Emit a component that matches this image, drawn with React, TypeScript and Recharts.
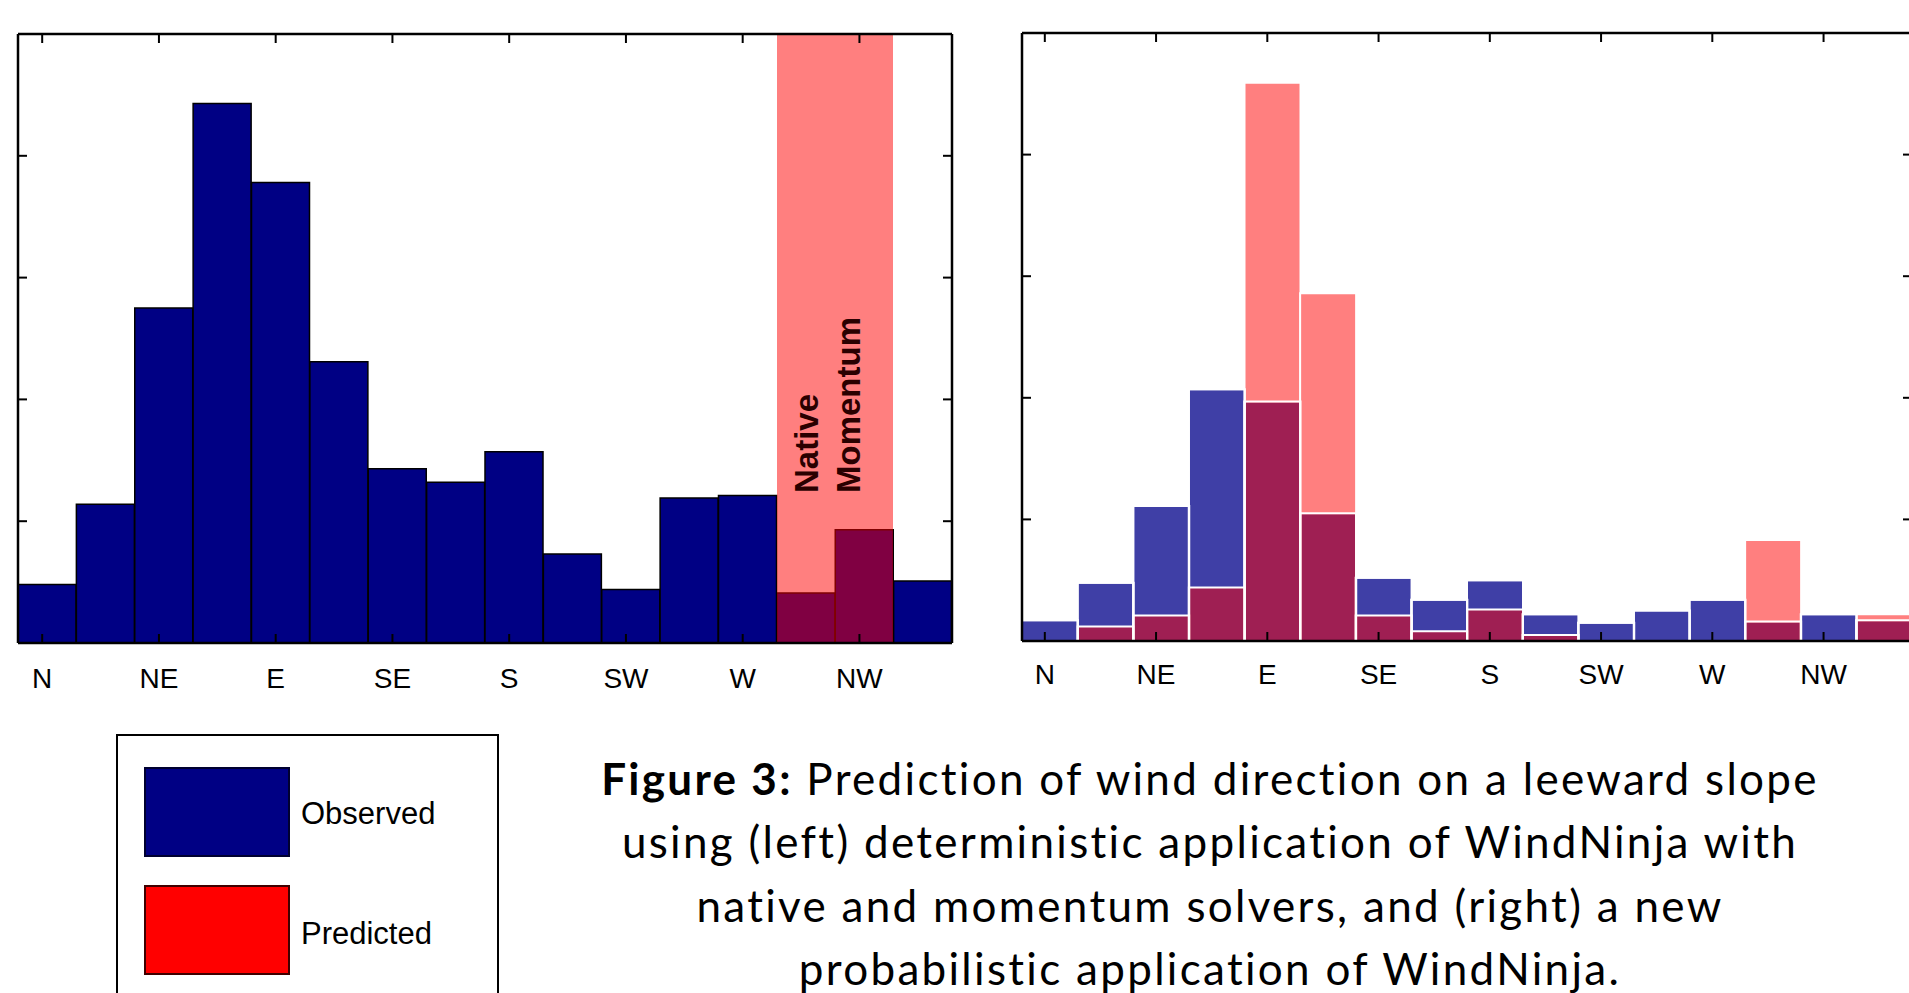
import React from 'react';
import { BarChart, Bar, XAxis, YAxis, Legend, LabelList } from 'recharts';

// 16 direction bins, labels shown on every other one
const directions = ['N', 'NNE', 'NE', 'ENE', 'E', 'ESE', 'SE', 'SSE', 'S', 'SSW', 'SW', 'WSW', 'W', 'WNW', 'NW', 'NNW'];

// left panel: deterministic WindNinja (native / momentum solvers)
const observedLeft = [0.48, 1.14, 2.75, 4.43, 3.78, 2.31, 1.43, 1.32, 1.57, 0.73, 0.44, 1.19, 1.21, 0.41, 0.93, 0.51];
const predictedLeft = [0, 0, 0, 0, 0, 0, 0, 0, 0, 0, 0, 0, 0, 24.6, 24.6, 0];
const solverNames = ['', '', '', '', '', '', '', '', '', '', '', '', '', 'Native', 'Momentum', ''];

// right panel: probabilistic WindNinja
const observedRight = [0.17, 0.48, 1.11, 2.07, 1.97, 1.05, 0.52, 0.34, 0.5, 0.22, 0.15, 0.25, 0.34, 0.16, 0.22, 0.17];
const predictedRight = [0, 0.12, 0.21, 0.44, 4.59, 2.86, 0.21, 0.08, 0.26, 0.05, 0, 0, 0, 0.83, 0, 0.22];

const yTicks = [1, 2, 3, 4];
const yDomain = [0, 5];

const leftData = directions.map((dir, i) => ({
  dir,
  observed: observedLeft[i],
  predicted: predictedLeft[i],
  solver: solverNames[i],
}));
const rightData = directions.map((dir, i) => ({
  dir,
  observed: observedRight[i],
  predicted: predictedRight[i],
}));

const FONT = "'Liberation Sans', Arial, Helvetica, sans-serif";
const TICK_LEN = 9;
const TICK_SHIFT = -5; // matlab ticks sit a little left of the bin centres
const frame = { stroke: '#000', strokeWidth: 2.5 };

const bottomTick = (labelDy: number) => (props: any) => {
  const { y, payload } = props;
  const x = props.x + TICK_SHIFT;
  return (
    <g>
      <line x1={x} y1={y} x2={x} y2={y - TICK_LEN} stroke="#000" strokeWidth={2} />
      <text x={x} y={y + labelDy} textAnchor="middle" fontFamily={FONT} fontSize={28} fill="#000">
        {payload.value}
      </text>
    </g>
  );
};
const topTick = (props: any) => {
  const x = props.x + TICK_SHIFT;
  return <line x1={x} y1={props.y} x2={x} y2={props.y + TICK_LEN} stroke="#000" strokeWidth={2} />;
};
const leftTick = (props: any) => (
  <line x1={props.x} y1={props.y} x2={props.x + TICK_LEN} y2={props.y} stroke="#000" strokeWidth={2} />
);
const rightTick = (props: any) => (
  <line x1={props.x} y1={props.y} x2={props.x - TICK_LEN} y2={props.y} stroke="#000" strokeWidth={2} />
);

// rotated solver names inside the pink band
const SolverLabel = (props: any) => {
  const { x, width, value } = props;
  if (!value) return null;
  const shift = value === 'Native' ? 12 : -4;
  const bx = x + width / 2 + shift;
  const by = 493;
  return (
    <text
      x={bx}
      y={by}
      transform={`rotate(-90, ${bx}, ${by})`}
      fontFamily={FONT}
      fontWeight="bold"
      fontSize={33}
      fill="#2a0000"
    >
      {value}
    </text>
  );
};

// translucent red block, crisp edges so neighbouring blocks don't leave a seam
const bandBar = (props: any) => {
  const { x, y, width, height } = props;
  if (!height || height <= 0) return <g />;
  return (
    <rect
      x={x}
      y={y}
      width={width}
      height={height}
      fill="#FF0000"
      fillOpacity={0.5}
      shapeRendering="crispEdges"
    />
  );
};

// bar with white edges on left, top and right only (bottom axis stays visible)
const edgeBar = (color: string, opacity: number) => (props: any) => {
  const { x, y, width, height } = props;
  if (!height || height <= 0) return <g />;
  const b = y + height;
  return (
    <g>
      {color !== 'none' && (
        <rect x={x} y={y} width={width} height={height} fill={color} fillOpacity={opacity} />
      )}
      <path
        d={`M${x},${b} L${x},${y} L${x + width},${y} L${x + width},${b}`}
        fill="none"
        stroke="#fff"
        strokeWidth={2}
      />
    </g>
  );
};

const LegendBox = (props: any) => {
  const payload = props.payload || [];
  return (
    <div
      style={{
        width: 383,
        height: 300,
        border: '2px solid #000',
        boxSizing: 'border-box',
        background: '#fff',
        position: 'relative',
      }}
    >
      {payload.map((entry: any, i: number) => (
        <div
          key={entry.value}
          style={{ position: 'absolute', left: 26, top: 31 + i * 118, display: 'flex', alignItems: 'center' }}
        >
          <div
            style={{
              width: 146,
              height: 90,
              background: entry.color,
              border: `2px solid ${i === 0 ? '#000030' : '#400000'}`,
              boxSizing: 'border-box',
            }}
          />
          <span
            style={{
              marginLeft: 11,
              marginTop: 4 + i * 4,
              fontFamily: FONT,
              fontSize: 31,
              color: '#000',
            }}
          >
            {entry.value}
          </span>
        </div>
      ))}
    </div>
  );
};

const App: React.FC = () => {
  return (
    <div
      style={{
        position: 'fixed',
        left: 0,
        top: 0,
        width: 1909,
        height: 993,
        overflow: 'hidden',
        background: '#fff',
      }}
    >
      <div style={{ position: 'absolute', left: 0, top: 0 }}>
        <BarChart
          width={962}
          height={703}
          data={leftData}
          margin={{ top: 0, right: 0, bottom: 0, left: 0 }}
          barCategoryGap={0}
          barGap={0}
        >
          <Bar
            xAxisId="b"
            yAxisId="l"
            dataKey="observed"
            name="Observed"
            fill="#000084"
            stroke="#000"
            strokeWidth={1.5}
            isAnimationActive={false}
          />
          <Bar
            xAxisId="o"
            yAxisId="l"
            dataKey="predicted"
            name="Predicted"
            fill="#FF0000"
            shape={bandBar}
            isAnimationActive={false}
          >
            <LabelList dataKey="solver" content={SolverLabel} />
          </Bar>
          <XAxis xAxisId="o" dataKey="dir" hide />
          <XAxis
            xAxisId="b"
            dataKey="dir"
            interval={1}
            height={60}
            tickSize={0}
            tickMargin={0}
            tickLine={false}
            axisLine={frame}
            tick={bottomTick(45)}
          />
          <XAxis
            xAxisId="t"
            orientation="top"
            dataKey="dir"
            interval={1}
            height={34}
            tickSize={0}
            tickMargin={0}
            tickLine={false}
            axisLine={frame}
            tick={topTick}
          />
          <YAxis
            yAxisId="l"
            domain={yDomain}
            ticks={yTicks}
            allowDataOverflow
            width={18}
            tickSize={0}
            tickMargin={0}
            tickLine={false}
            axisLine={frame}
            tick={leftTick}
          />
          <YAxis
            yAxisId="r"
            orientation="right"
            domain={yDomain}
            ticks={yTicks}
            allowDataOverflow
            width={10}
            tickSize={0}
            tickMargin={0}
            tickLine={false}
            axisLine={frame}
            tick={rightTick}
          />
          <Legend
            layout="vertical"
            align="center"
            verticalAlign="middle"
            content={LegendBox}
            wrapperStyle={{ position: 'absolute', left: 116, top: 734, width: 383, height: 300 }}
          />
        </BarChart>
      </div>

      <div style={{ position: 'absolute', left: 1004, top: 0 }}>
        <BarChart
          width={918}
          height={701}
          data={rightData}
          margin={{ top: 0, right: 0, bottom: 0, left: 0 }}
          barCategoryGap={0}
          barGap={0}
        >
          <Bar xAxisId="b" yAxisId="l" dataKey="observed" shape={edgeBar('#3F3FA6', 1)} isAnimationActive={false} />
          <Bar xAxisId="o" yAxisId="l" dataKey="predicted" shape={edgeBar('#FF0000', 0.5)} isAnimationActive={false} />
          <Bar xAxisId="o2" yAxisId="l" dataKey="observed" shape={edgeBar('none', 0)} isAnimationActive={false} />
          <XAxis xAxisId="o" dataKey="dir" hide />
          <XAxis xAxisId="o2" dataKey="dir" hide />
          <XAxis
            xAxisId="b"
            dataKey="dir"
            interval={1}
            height={60}
            tickSize={0}
            tickMargin={0}
            tickLine={false}
            axisLine={frame}
            tick={bottomTick(43)}
          />
          <XAxis
            xAxisId="t"
            orientation="top"
            dataKey="dir"
            interval={1}
            height={33}
            tickSize={0}
            tickMargin={0}
            tickLine={false}
            axisLine={frame}
            tick={topTick}
          />
          <YAxis
            yAxisId="l"
            domain={yDomain}
            ticks={yTicks}
            allowDataOverflow
            width={18}
            tickSize={0}
            tickMargin={0}
            tickLine={false}
            axisLine={frame}
            tick={leftTick}
          />
          <YAxis
            yAxisId="r"
            orientation="right"
            domain={yDomain}
            ticks={yTicks}
            allowDataOverflow
            width={10}
            tickSize={0}
            tickMargin={0}
            tickLine={false}
            axisLine={frame}
            tick={rightTick}
          />
        </BarChart>
      </div>

      <div
        style={{
          position: 'absolute',
          left: 510,
          top: 747,
          width: 1400,
          textAlign: 'center',
          fontFamily: "Lato, 'Open Sans', sans-serif",
          fontSize: 44,
          letterSpacing: '2.3px',
          lineHeight: '63.3px',
          color: '#000',
          whiteSpace: 'nowrap',
        }}
      >
        <b>Figure 3:</b> Prediction of wind direction on a leeward slope
        <br />
        using (left) deterministic application of WindNinja with
        <br />
        native and momentum solvers, and (right) a new
        <br />
        probabilistic application of WindNinja.
      </div>
    </div>
  );
};

export default App;
